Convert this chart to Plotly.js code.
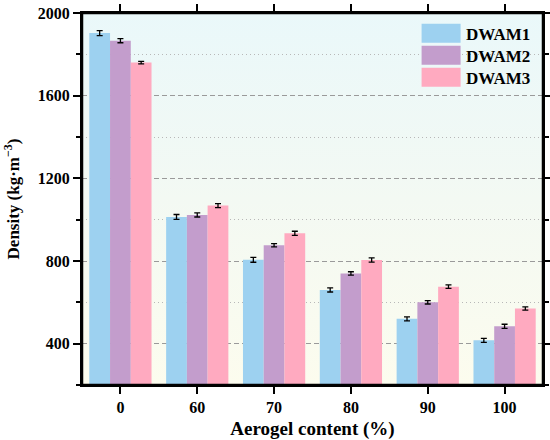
<!DOCTYPE html>
<html>
<head>
<meta charset="utf-8">
<script src="https://cdn.plot.ly/plotly-3.0.1.min.js"></script>
<style>html,body{margin:0;padding:0;background:#fff;}#chart{width:550px;height:440px;}</style>
</head>
<body>
<div id="chart"></div>
<script>
const categories = ["0", "60", "70", "80", "90", "100"];
const seriesNames = ["DWAM1", "DWAM2", "DWAM3"];
const dwam1 = [1903, 1013, 806, 660, 520, 416];
const dwam2 = [1866, 1023, 876, 740, 600, 484];
const dwam3 = [1760, 1068, 934, 805, 676, 570];
const err1 = [12, 12, 12, 10, 10, 10];
const err2 = [10, 10, 8, 8, 8, 10];
const err3 = [6, 10, 10, 10, 8, 8];
const yTickVals = [400, 800, 1200, 1600, 2000];
const colors = ["#9DD1F0", "#C39DCC", "#FFAAC0"];

const values = [dwam1, dwam2, dwam3];
const errs = [err1, err2, err3];
const FONT = "Liberation Serif, Times New Roman, serif";

const traces = seriesNames.map((name, i) => ({
  type: "bar",
  name: name,
  x: categories,
  y: values[i],
  marker: {color: colors[i], line: {width: 0}},
  error_y: {type: "data", array: errs[i], visible: true, color: "#000", thickness: 1.3, width: 3}
}));

const layout = {
  width: 550, height: 440,
  margin: {l: 82, r: 7, t: 13, b: 55},
  paper_bgcolor: "#ffffff",
  plot_bgcolor: "#F3F9F4",
  font: {family: FONT, color: "#000"},
  barmode: "group",
  bargap: 0.19,
  bargroupgap: 0,
  showlegend: true,
  legend: {
    x: 0.985, y: 0.993, xanchor: "right", yanchor: "top",
    bgcolor: "rgba(0,0,0,0)", borderwidth: 0,
    font: {family: FONT, size: 17, color: "#000", weight: "bold"},
    itemwidth: 40, tracegroupgap: 0
  },
  shapes: [{
    type: "rect", xref: "paper", yref: "paper", x0: 0, x1: 1, y0: 0, y1: 1,
    line: {color: "#000000", width: 2.5}, layer: "above"
  }],
  xaxis: {
    type: "category",
    range: [-0.5, 5.5],
    showline: true, linecolor: "#000000", linewidth: 2, mirror: "all",
    ticks: "outside", ticklen: 7, tickwidth: 2, tickcolor: "#000",
    showgrid: false, zeroline: false,
    tickfont: {family: FONT, size: 16, color: "#000", weight: "bold"},
    title: {text: "Aerogel content (%)", font: {family: FONT, size: 19, color: "#000", weight: "bold"}, standoff: 6}
  },
  yaxis: {
    range: [200, 2000],
    tickvals: yTickVals,
    showline: true, linecolor: "#000000", linewidth: 2, mirror: "all",
    ticks: "outside", ticklen: 7, tickwidth: 2, tickcolor: "#000",
    showgrid: true, gridcolor: "#9A9A9A", gridwidth: 1, griddash: "5px,3px",
    zeroline: false,
    tickfont: {family: FONT, size: 16, color: "#000", weight: "bold"},
    minor: {dtick: 200, tick0: 0, ticks: "outside", ticklen: 4, tickwidth: 1.5, tickcolor: "#000",
            showgrid: true, gridcolor: "#B8B8B8", gridwidth: 1, griddash: "1px,3px"},
    title: {text: "Density (kg·m<sup>−3</sup>)", font: {family: FONT, size: 17, color: "#000", weight: "bold"}, standoff: 14}
  }
};

Plotly.newPlot("chart", traces, layout, {displayModeBar: false}).then(() => {
  const svgNS = "http://www.w3.org/2000/svg";
  const mainSvg = document.querySelector("#chart svg.main-svg");
  let defs = mainSvg.querySelector("defs");
  if (!defs) { defs = document.createElementNS(svgNS, "defs"); mainSvg.insertBefore(defs, mainSvg.firstChild); }
  const grad = document.createElementNS(svgNS, "linearGradient");
  grad.setAttribute("id", "bgGrad");
  grad.setAttribute("x1", "0"); grad.setAttribute("y1", "0");
  grad.setAttribute("x2", "0"); grad.setAttribute("y2", "1");
  [["0", "#EAF8FA"], ["0.5", "#F3F9F3"], ["1", "#FCFCEE"]].forEach(([o, c]) => {
    const s = document.createElementNS(svgNS, "stop");
    s.setAttribute("offset", o); s.setAttribute("stop-color", c);
    grad.appendChild(s);
  });
  defs.appendChild(grad);
  document.querySelectorAll("#chart .bglayer rect.bg").forEach(r => { r.style.fill = "url(#bgGrad)"; });

  document.querySelectorAll("#chart .legend .traces path").forEach(p => {
    p.setAttribute("d", "M-19.5,-9.5H19.5V9.5H-19.5Z");
  });
  const items = document.querySelectorAll("#chart .legend .traces");
  if (items.length) {
    const m = /translate\(\s*([-\d.]+)[ ,]+([-\d.]+)\)/.exec(items[0].getAttribute("transform") || "");
    if (m) {
      const x0 = parseFloat(m[1]), y0 = parseFloat(m[2]);
      items.forEach((g, i) => g.setAttribute("transform", "translate(" + x0 + "," + (y0 + i * 22) + ")"));
    }
  }
  document.querySelectorAll("#chart path.xline, #chart path.yline, #chart .shapelayer path").forEach(p => {
    p.style.stroke = "#000000"; p.style.strokeOpacity = "1";
  });
});
</script>
</body>
</html>
